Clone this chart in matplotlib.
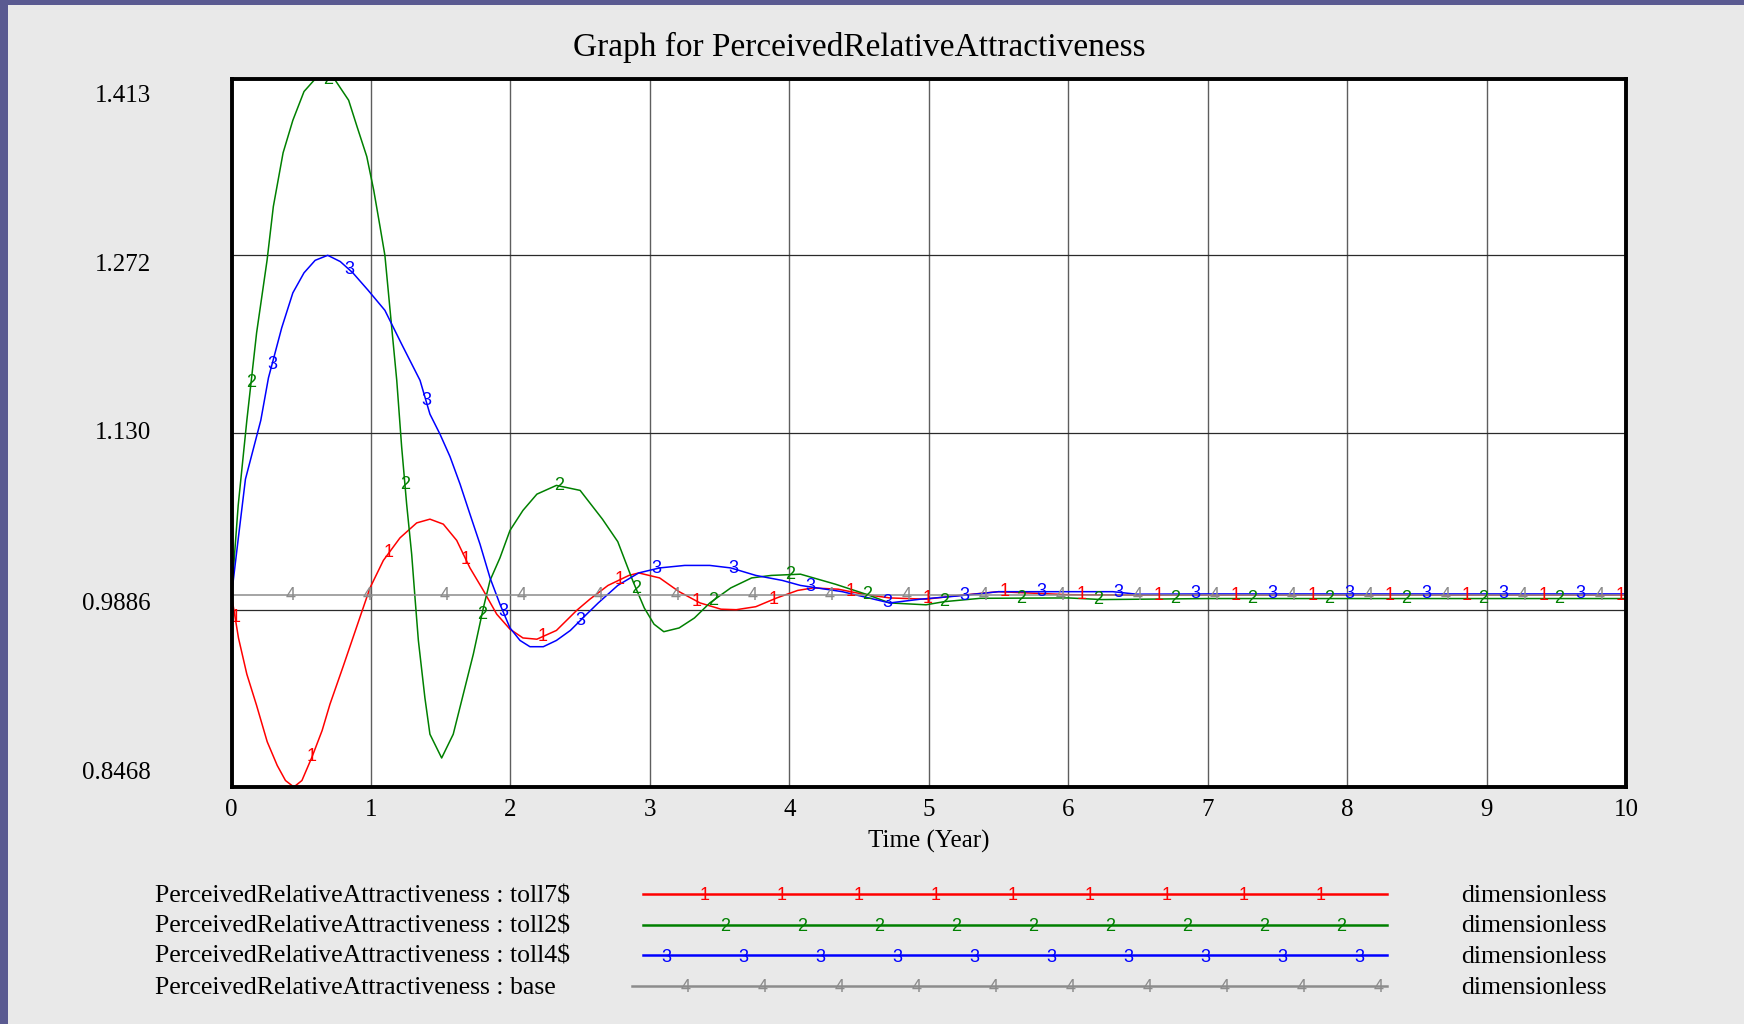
import numpy as np
import matplotlib
matplotlib.use("Agg")
import matplotlib.pyplot as plt
from matplotlib.transforms import ScaledTranslation

# series (Time in years)
t_toll7 = [0, 0.05, 0.11, 0.18, 0.256, 0.328, 0.387, 0.447, 0.505, 0.578, 0.65, 0.706, 0.80, 0.898,
           0.993, 1.089, 1.208, 1.328, 1.423, 1.519, 1.615, 1.71, 1.806, 1.902, 1.997, 2.09, 2.19,
           2.33, 2.475, 2.57, 2.70, 2.85, 2.92, 3.07, 3.21, 3.36, 3.51, 3.62, 3.76, 3.91, 4.06,
           4.17, 4.35, 4.53, 4.72, 4.98, 5.2, 5.5, 6.0, 6.44, 7.0, 8.0, 9.0, 10.0]
v_toll7 = [1.0, 0.966, 0.937, 0.912, 0.883, 0.864, 0.852, 0.8468, 0.852, 0.871, 0.892, 0.913, 0.943,
           0.975, 1.006, 1.028, 1.046, 1.058, 1.061, 1.057, 1.044, 1.022, 1.004, 0.985, 0.973,
           0.966, 0.965, 0.972, 0.988, 0.997, 1.008, 1.016, 1.018, 1.014, 1.003, 0.994, 0.989,
           0.9886, 0.991, 0.998, 1.004, 1.006, 1.005, 1.001, 0.998, 0.997, 0.9998, 1.003, 1.0006,
           1.0003, 1.0003, 1.0003, 1.0003, 1.0003]

t_toll2 = [0, 0.048, 0.11, 0.18, 0.255, 0.30, 0.37, 0.44, 0.52, 0.60, 0.67, 0.744, 0.84, 0.90, 0.97,
           1.02, 1.065, 1.10, 1.144, 1.185, 1.22, 1.256, 1.292, 1.316, 1.34, 1.387, 1.423, 1.507,
           1.59, 1.662, 1.734, 1.806, 1.854, 1.925, 1.997, 2.09, 2.19, 2.33, 2.50, 2.66, 2.77,
           2.88, 2.96, 3.03, 3.10, 3.21, 3.32, 3.43, 3.58, 3.73, 3.87, 4.08, 4.33, 4.55, 4.72,
           4.98, 5.11, 5.37, 6.0, 6.24, 7.0, 8.0, 9.0, 10.0]
v_toll2 = [1.0, 1.072, 1.140, 1.210, 1.268, 1.311, 1.354, 1.380, 1.403, 1.413, 1.413, 1.412, 1.396,
           1.375, 1.351, 1.324, 1.295, 1.272, 1.220, 1.172, 1.119, 1.073, 1.033, 0.998, 0.964,
           0.918, 0.889, 0.870, 0.889, 0.921, 0.953, 0.990, 1.012, 1.030, 1.052, 1.068, 1.081,
           1.088, 1.084, 1.061, 1.043, 1.011, 0.990, 0.977, 0.971, 0.974, 0.982, 0.994, 1.006,
           1.014, 1.016, 1.017, 1.009, 1.001, 0.994, 0.9925, 0.995, 0.9977, 0.998, 0.9967,
           0.9975, 0.9975, 0.9975, 0.9975]

t_toll4 = [0, 0.048, 0.10, 0.21, 0.265, 0.36, 0.44, 0.52, 0.60, 0.69, 0.78, 0.87, 0.98, 1.10, 1.22,
           1.352, 1.423, 1.495, 1.567, 1.639, 1.71, 1.782, 1.854, 1.925, 1.997, 2.069, 2.14, 2.236,
           2.33, 2.43, 2.547, 2.63, 2.77, 2.92, 3.07, 3.25, 3.43, 3.58, 3.76, 3.95, 4.08, 4.38,
           4.72, 4.94, 5.2, 5.5, 6.32, 6.49, 7.0, 8.0, 9.0, 10.0]
v_toll4 = [1.0, 1.045, 1.093, 1.140, 1.174, 1.214, 1.242, 1.258, 1.268, 1.272, 1.267, 1.258, 1.244,
           1.228, 1.201, 1.172, 1.145, 1.129, 1.111, 1.089, 1.065, 1.041, 1.014, 0.993, 0.974,
           0.964, 0.959, 0.959, 0.964, 0.972, 0.985, 0.994, 1.008, 1.018, 1.022, 1.024, 1.024,
           1.022, 1.016, 1.012, 1.008, 1.003, 0.994, 0.997, 0.9995, 1.003, 1.003, 1.001, 1.0012,
           1.0012, 1.0012, 1.0012]

t_base = [0, 10]
v_base = [1.0, 1.0]

series_names = ["toll7$", "toll2$", "toll4$", "base"]
series_colors = ["#ff0000", "#008000", "#0000ff", "#8c8c8c"]
y_ticks = [0.8468, 0.9886, 1.130, 1.272, 1.413]
y_tick_labels = ["0.8468", "0.9886", "1.130", "1.272", "1.413"]
x_ticks = list(range(0, 11))

# where vensim puts the little series numbers along each line
marker_start = [0.026, 0.14, 0.29, 0.425]
marker_step = 0.552

W, H = 1744, 1024
fig = plt.figure(figsize=(W / 100, H / 100), dpi=100, facecolor="#e9e9e9")
serif = "Liberation Serif"
sans = "Liberation Sans"

ax = fig.add_axes([231.5 / W, 1 - 787 / H, (1626 - 231.5) / W, (787 - 79) / H])
ax.set_facecolor("white")
ax.set_xlim(0, 10)
ax.set_ylim(0.8468, 1.413)

for x in range(1, 10):
    ax.axvline(x, color="#5e5e5e", lw=1.0, zorder=1)
for y in y_ticks[1:4]:
    ax.axhline(y, color="#2a2a2a", lw=0.9, zorder=1)

data = [(t_toll7, v_toll7), (t_toll2, v_toll2), (t_toll4, v_toll4), (t_base, v_base)]
order = [3, 1, 2, 0]
for i in order:
    t, v = data[i]
    ax.plot(t, v, color=series_colors[i], lw=1.1, zorder=3 + i)
    mt = np.arange(marker_start[i], 10.0, marker_step)
    mv = np.interp(mt, t, v)
    for a, b in zip(mt, mv):
        ax.text(a, b, str(i + 1), color=series_colors[i], fontsize=13, family=sans,
                ha="center", va="center", zorder=7, clip_on=True)

for s in ax.spines.values():
    s.set_linewidth(2.8)
    s.set_color("black")
    s.set_zorder(10)

ax.set_xticks(x_ticks)
ax.set_xticklabels([str(x) for x in x_ticks], family=serif, fontsize=18)
ax.set_yticks(y_ticks)
ax.set_yticklabels(y_tick_labels, family=serif, fontsize=18, ha="right")
ax.tick_params(axis="x", length=0, pad=8.5)
ax.tick_params(axis="y", length=0, pad=58)
# vensim draws the value labels a little off the grid lines (pixels, + = down)
y_shift_px = [-14, -6, 0, 10, 17]
for lab, dy in zip(ax.get_yticklabels(), y_shift_px):
    lab.set_va("center")
    lab.set_transform(lab.get_transform() + ScaledTranslation(0, -dy / 100, fig.dpi_scale_trans))
ax.set_xlabel("Time (Year)", family=serif, fontsize=18, labelpad=6.5)

fig.text(859 / W, 1 - 47 / H, "Graph for PerceivedRelativeAttractiveness", family=serif,
         fontsize=24, ha="center", va="center")

# legend + window frame drawn in pixel space
lg = fig.add_axes([0, 0, 1, 1], facecolor="none")
lg.set_xlim(0, W)
lg.set_ylim(H, 0)
lg.axis("off")
lg.axhspan(0, 4.7, color="#5a5a91", lw=0)
lg.axvspan(0, 7.5, color="#5a5a91", lw=0)

leg_y = [896, 926.5, 957, 987.5]
leg_x0 = [643, 643, 643, 632]
leg_m0 = [705, 725, 666, 686]
leg_n = [9, 9, 10, 10]
for i in range(4):
    y = leg_y[i]
    lg.text(155, y, "PerceivedRelativeAttractiveness : " + series_names[i], family=serif,
            fontsize=18.5, ha="left", va="center")
    lg.plot([leg_x0[i], 1387], [y - 2, y - 2], color=series_colors[i], lw=1.8)
    for k in range(leg_n[i]):
        lg.text(leg_m0[i] + 77 * k, y, str(i + 1), color=series_colors[i], fontsize=13,
                family=sans, ha="center", va="center")
    lg.text(1461, y, "dimensionless", family=serif, fontsize=18.5, ha="left", va="center")

fig.savefig("out.png", dpi=100, facecolor=fig.get_facecolor())
